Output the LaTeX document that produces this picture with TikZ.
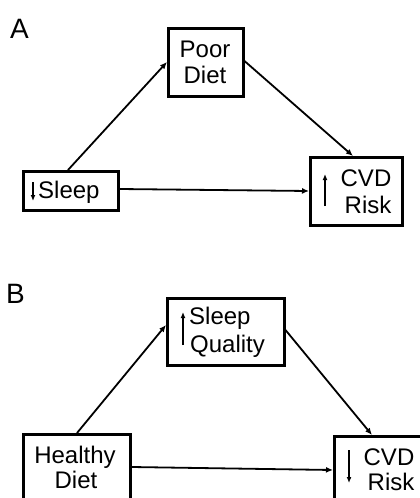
\documentclass[tikz,border=0pt]{standalone}
\usepackage{fontspec}
\setmainfont{Liberation Sans}
\usetikzlibrary{arrows.meta}
\begin{document}
\begin{tikzpicture}[x=1pt,y=-1pt,
  box/.style={draw, line width=2.5pt, rectangle, anchor=north west, inner sep=0pt},
  lbl/.style={font=\fontsize{24}{26}\selectfont, inner sep=0pt, anchor=base},
  lblw/.style={lbl, anchor=base west},
  panel/.style={font=\fontsize{28}{30}\selectfont, inner sep=0pt, anchor=base west},
  conn/.style={line width=1.8pt, -{Latex[length=7pt,width=6pt]}},
  updown/.style={line width=1.8pt, -{Latex[length=6pt,width=5pt]}}]
\useasboundingbox (0,0) rectangle (420,498);
\clip (0,0) rectangle (420,498);
% ---------- Panel A ----------
\node[panel] (labA) at (10,38) {A};
\node[box, minimum width=75pt, minimum height=68pt] (diet) at (167,27) {};
\node[box, minimum width=95pt, minimum height=39pt] (sleep) at (22,170) {};
\node[box, minimum width=92pt, minimum height=68pt] (cvda) at (309,156) {};
\node[lbl] (tPoor) at (205,57) {Poor};
\node[lbl] (tDiet) at (205,83) {Diet};
\node[lblw] (tSleep) at (38,198) {Sleep};
\node[lbl] (tCVDa) at (366,186) {CVD};
\node[lbl] (tRiska) at (368,213) {Risk};
\coordinate (sdA1) at (33,182);
\coordinate (sdA2) at (33,201);
\draw[updown] (sdA1) -- (sdA2);
\coordinate (cuA1) at (325,206);
\coordinate (cuA2) at (325,174);
\draw[updown] (cuA1) -- (cuA2);
\draw[conn] ([xshift=46pt]sleep.north west) -- ([yshift=-35pt]diet.north west);
\draw[conn] ([yshift=-34pt]diet.north east) -- ([xshift=44pt]cvda.north west);
\draw[conn] ([yshift=-19pt]sleep.north east) -- ([yshift=-35pt]cvda.north west);
% ---------- Panel B ----------
\node[panel] (labB) at (6,303) {B};
\node[box, minimum width=117pt, minimum height=67pt] (sq) at (166,297) {};
\node[box, minimum width=107pt, minimum height=80pt] (hd) at (22,433) {};
\node[box, minimum width=92pt, minimum height=80pt] (cvdb) at (333,435) {};
\node[lblw] (tSleepB) at (189,324) {Sleep};
\node[lblw] (tQual) at (190,352) {Quality};
\node[lbl] (tHealthy) at (75,463) {Healthy};
\node[lbl] (tDietB) at (76,488) {Diet};
\node[lbl] (tCVDb) at (389,465) {CVD};
\node[lbl] (tRiskb) at (391,490) {Risk};
\coordinate (suB1) at (183,345);
\coordinate (suB2) at (183,312);
\draw[updown] (suB1) -- (suB2);
\coordinate (cdB1) at (349,450);
\coordinate (cdB2) at (349,483);
\draw[updown] (cdB1) -- (cdB2);
\draw[conn] ([xshift=55pt]hd.north west) -- ([yshift=-28pt]sq.north west);
\draw[conn] ([yshift=-33pt]sq.north east) -- ([xshift=39pt]cvdb.north west);
\draw[conn] ([yshift=-34pt]hd.north east) -- ([yshift=-35pt]cvdb.north west);
\end{tikzpicture}
\end{document}
